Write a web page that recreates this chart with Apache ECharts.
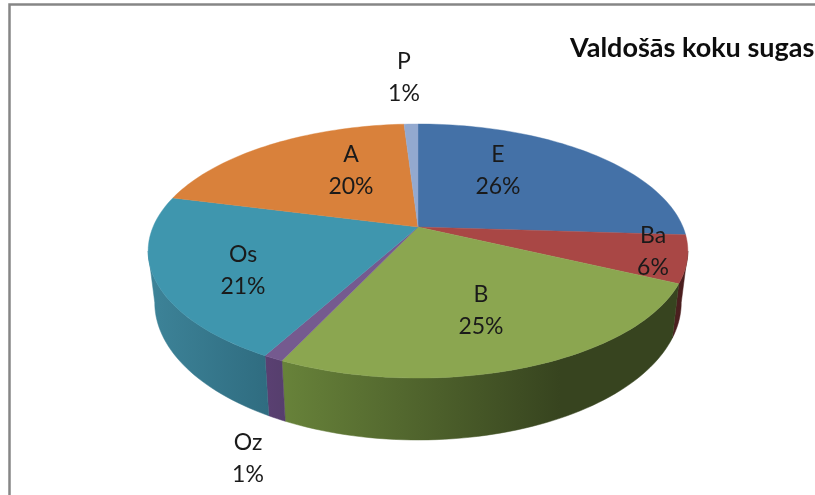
<!DOCTYPE html>
<html>
<head>
<meta charset="utf-8">
<style>html,body{margin:0;padding:0;background:#fff;overflow:hidden}#c{width:815px;height:495px}</style>
<script src="https://cdn.jsdelivr.net/npm/echarts@6/dist/echarts.min.js"></script>
</head>
<body>
<div id="c"></div>
<script>
// Data
const categories = ['E', 'Ba', 'B', 'Oz', 'Os', 'A', 'P'];
const percentages = [26, 6, 25, 1, 21, 20, 1];
const chartTitle = 'Valdošās koku sugas';

// Styles
const topColors = ['#4471a7', '#a94745', '#8ba650', '#755a8f', '#3f96ae', '#d9813b', '#93a9cf'];
const wallColors = [
  ['#2c4a6e', '#2c4a6e'],
  ['#4d2020', '#4a1e1e'],
  ['#68833a', '#37441f'],
  ['#5a4072', '#553e6c'],
  ['#3d8398', '#2f6c80'],
  ['#8a5426', '#8a5426'],
  ['#5f6f88', '#5f6f88']
];
const wallRanges = [[600, 690], [660, 690], [280, 560], [265, 290], [150, 270], [170, 410], [400, 420]];
// label centres (first line), one pair per category
const labelAnchors = [[498, 155], [653, 236], [481, 295], [248, 443], [243, 255], [351, 155], [404, 62]];

// Projection of the tilted disc
const apexX = 418, apexY = 227;
const persp = 0.189;
const topDisc = { cx: 265, ay: 122.5, dy: 0 };
const bottomDisc = { cx: 258.5, ay: 132.5, dy: 49.6 };
const project = (frac, disc) => {
  const a = frac * 2 * Math.PI;
  const u = Math.sin(a), v = Math.cos(a), den = 1 + persp * v;
  return [apexX + disc.cx * u / den, apexY + disc.dy - disc.ay * v / den];
};
const total = percentages.reduce((s, x) => s + x, 0);
const sliceRange = i => {
  let sum = 0;
  for (let k = 0; k < i; k++) sum += percentages[k];
  return [sum / total, (sum + percentages[i]) / total];
};
const arc = (f0, f1, disc) => {
  const n = Math.max(4, Math.ceil((f1 - f0) * 240));
  const pts = [];
  for (let j = 0; j <= n; j++) pts.push(project(f0 + (f1 - f0) * j / n, disc));
  return pts;
};
// the side wall is only visible between the two tangent points of the disc outline
const tangentFrac = Math.acos(-persp) / (2 * Math.PI);

const renderWall = (params, api) => {
  const i = params.dataIndex;
  const range = sliceRange(i);
  const f0 = Math.max(range[0], tangentFrac);
  const f1 = Math.min(range[1], 1 - tangentFrac);
  if (f1 <= f0) return null;
  const points = arc(f0, f1, topDisc).concat(arc(f0, f1, bottomDisc).reverse());
  const fill = {
    type: 'linear', global: true,
    x: wallRanges[i][0], y: 0, x2: wallRanges[i][1], y2: 0,
    colorStops: [{ offset: 0, color: wallColors[i][0] }, { offset: 1, color: wallColors[i][1] }]
  };
  return { type: 'polygon', shape: { points }, style: { fill, stroke: fill, lineWidth: 0.5 } };
};
const renderTop = (params, api) => {
  const i = params.dataIndex;
  const [f0, f1] = sliceRange(i);
  const points = [[apexX, apexY]].concat(arc(f0, f1, topDisc));
  return { type: 'polygon', shape: { points }, style: { fill: topColors[i], stroke: topColors[i], lineWidth: 0.4 } };
};
const renderLabel = (params, api) => {
  const i = params.dataIndex;
  return {
    type: 'text',
    style: {
      x: labelAnchors[i][0], y: labelAnchors[i][1] - 16,
      text: categories[i] + '\n' + api.value(1) + '%',
      font: '23px Lato', fill: '#1a1a1a', lineHeight: 32, align: 'center', verticalAlign: 'top'
    }
  };
};
const seriesData = categories.map((c, i) => ({ name: c, value: [i, percentages[i]] }));

const chart = echarts.init(document.getElementById('c'), null, { renderer: 'canvas' });
chart.setOption({
  animation: false,
  backgroundColor: '#ffffff',
  title: {
    text: chartTitle, left: 565, top: 30,
    textStyle: { fontFamily: 'Lato', fontSize: 27, fontWeight: 'bold', color: '#0d0d0d' }
  },
  graphic: [{
    type: 'rect', silent: true, z: 0,
    shape: { x: 9.5, y: 4.5, width: 900, height: 600 },
    style: { fill: 'none', stroke: '#868686', lineWidth: 2.5 }
  }],
  series: [
    { type: 'custom', coordinateSystem: 'none', silent: true, z: 1, renderItem: renderWall, data: seriesData },
    { type: 'custom', coordinateSystem: 'none', silent: true, z: 2, renderItem: renderTop, data: seriesData },
    { type: 'custom', coordinateSystem: 'none', silent: true, z: 3, renderItem: renderLabel, data: seriesData }
  ]
});
</script>
</body>
</html>
